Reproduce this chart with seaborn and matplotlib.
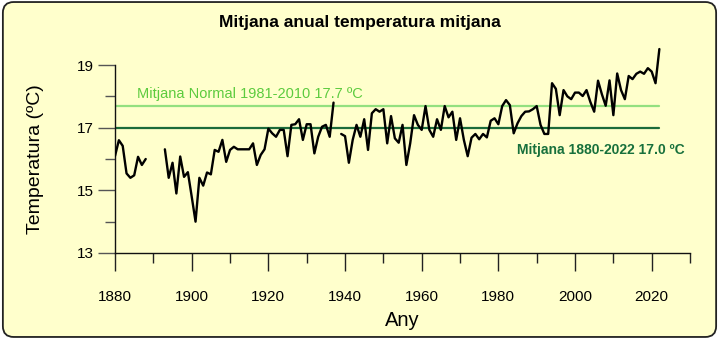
import numpy as np
import pandas as pd
import seaborn as sns
import matplotlib
matplotlib.use("Agg")
import matplotlib.pyplot as plt
from matplotlib.patches import FancyBboxPatch
from matplotlib.ticker import MultipleLocator

nan = np.nan
anys = list(range(1880, 2023))
temperatura = [
    16.10, 16.60, 16.42, 15.54, 15.40, 15.48, 16.07, 15.81, 16.00,            # 1880-1888
    nan, nan, nan, nan,                                                        # 1889-1892
    16.31, 15.40, 15.88, 14.90, 16.08, 15.43, 15.58,                           # 1893-1899
    14.80, 14.00, 15.40, 15.15, 15.57, 15.51, 16.29, 16.23, 16.61, 15.91,      # 1900-1909
    16.29, 16.39, 16.31, 16.31, 16.31, 16.31, 16.50, 15.81, 16.13, 16.31,      # 1910-1919
    16.97, 16.82, 16.71, 16.93, 16.93, 16.09, 17.09, 17.11, 17.27, 16.61,      # 1920-1929
    17.11, 17.11, 16.18, 16.71, 17.03, 17.09, 16.71, 17.80, nan, 16.80,        # 1930-1939
    16.73, 15.88, 16.61, 17.09, 16.71, 17.27, 16.29, 17.46, 17.59, 17.51,      # 1940-1949
    17.59, 16.50, 17.37, 16.66, 16.52, 17.09, 15.81, 16.50, 17.40, 17.09,      # 1950-1959
    16.93, 17.69, 16.93, 16.71, 17.27, 16.93, 17.69, 17.33, 17.51, 16.61,      # 1960-1969
    17.30, 16.61, 16.09, 16.68, 16.80, 16.63, 16.80, 16.69, 17.22, 17.30,      # 1970-1979
    17.11, 17.69, 17.88, 17.72, 16.82, 17.14, 17.37, 17.51, 17.52, 17.59,      # 1980-1989
    17.69, 17.09, 16.80, 16.80, 18.42, 18.24, 17.40, 18.20, 18.00, 17.91,      # 1990-1999
    18.12, 18.12, 18.01, 18.20, 17.82, 17.51, 18.50, 18.07, 17.70, 18.51,      # 2000-2009
    17.40, 18.73, 18.20, 17.91, 18.65, 18.55, 18.72, 18.79, 18.72, 18.90,      # 2010-2019
    18.79, 18.42, 19.51,                                                       # 2020-2022
]
mitjana_normal = 17.7
mitjana_total = 17.0
text_normal = "Mitjana Normal 1981-2010 17.7 ºC"
text_total = "Mitjana 1880-2022 17.0 ºC"
titol = "Mitjana anual temperatura mitjana"

df = pd.DataFrame({"Any": anys, "Temp": temperatura})
# segment id to break the line at missing years
df["tram"] = df["Temp"].isna().cumsum()
df = df.dropna()

sns.set_theme(style="white")
narrow = ["Liberation Sans Narrow", "Liberation Sans", "DejaVu Sans"]
regular = ["Liberation Sans", "DejaVu Sans"]
plt.rcParams["font.family"] = narrow
for k in ["text.color", "axes.labelcolor", "xtick.labelcolor", "ytick.labelcolor"]:
    plt.rcParams[k] = "black"

bg = "#FFFFCC"
fig = plt.figure(figsize=(7.19, 3.39), dpi=100)
fig.patch.set_facecolor("white")
box = FancyBboxPatch((0.004, 0.006), 0.992, 0.988, boxstyle="round,pad=0,rounding_size=0.015",
                     transform=fig.transFigure, facecolor=bg, edgecolor="#222222",
                     linewidth=1.3, mutation_aspect=719/339, zorder=-10)
fig.patches.append(box)

ax = fig.add_axes([0.16, 0.2537, 0.7997, 0.6469])
ax.set_facecolor("none")
ax.set_zorder(5)

ax.plot([1880, 2022], [mitjana_normal, mitjana_normal], color="#93E07F", lw=1.6, zorder=2)
ax.plot([1880, 2022], [mitjana_total, mitjana_total], color="#1B6B3A", lw=1.6, zorder=2)

sns.lineplot(data=df, x="Any", y="Temp", units="tram", estimator=None,
             color="black", linewidth=1.7, ax=ax, zorder=3, legend=False)

ax.text(1885.8, 18.08, text_normal, color="#5CCB3E", fontsize=10.5, family=regular,
        ha="left", va="center")
ax.text(2028.6, 16.28, text_total, color="#17703C", fontsize=10, family=regular,
        fontweight="bold", ha="right", va="center")

ax.set_xlim(1880, 2030)
ax.set_ylim(13, 20)
ax.xaxis.set_major_locator(MultipleLocator(20))
ax.xaxis.set_minor_locator(MultipleLocator(10))
ax.set_yticks([13, 15, 17, 19])
ax.set_yticks([14, 16, 18], minor=True)

for s in ["top", "right"]:
    ax.spines[s].set_visible(False)
ax.spines["left"].set_bounds(13, 19)
for s in ["left", "bottom"]:
    ax.spines[s].set_color("#111111")
    ax.spines[s].set_linewidth(1.0)

ax.tick_params(axis="x", which="major", direction="out", length=13, width=1, color="#222222",
               labelsize=11, pad=14, bottom=True)
ax.tick_params(axis="x", which="minor", direction="out", length=7, width=1, color="#222222",
               bottom=True)
ax.tick_params(axis="y", which="major", direction="out", length=12, width=1, color="#555555",
               labelsize=11, pad=3, left=True)
ax.tick_params(axis="y", which="minor", direction="out", length=7, width=1, color="#555555",
               left=True)

ax.set_xlabel("Any", fontsize=14.5, labelpad=5)
ax.set_ylabel("Temperatura (ºC)", fontsize=14)
ax.yaxis.set_label_coords(-0.124, 0.43)
ax.grid(False)

fig.text(0.5, 0.935, titol, ha="center", va="center", fontsize=12.5, fontweight="bold")

fig.savefig("out.png", dpi=100, facecolor=fig.get_facecolor())
